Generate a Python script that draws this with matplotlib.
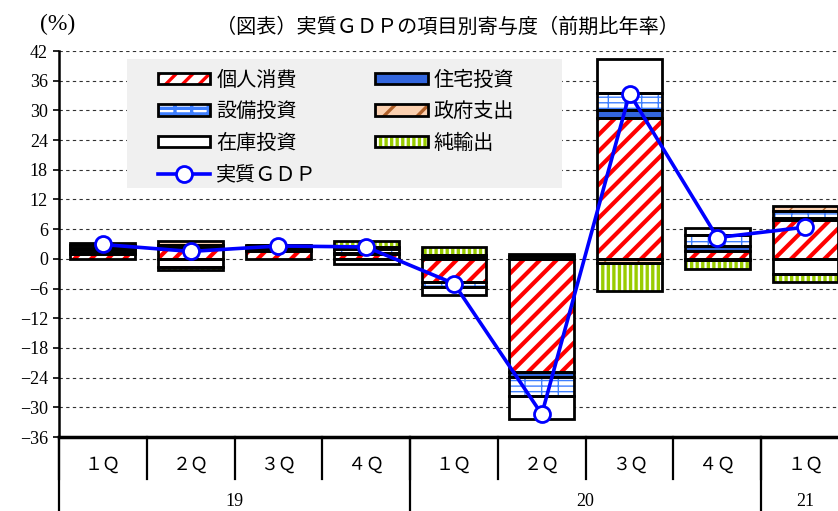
import numpy as np
import matplotlib
matplotlib.use("Agg")
import matplotlib.pyplot as plt
from matplotlib.patches import Patch, Rectangle
from matplotlib.lines import Line2D

plt.rcParams["font.family"] = ["Liberation Serif", "Noto Sans CJK JP", "DejaVu Sans"]

# quarters / years along the x axis
quarters = ["１Ｑ", "２Ｑ", "３Ｑ", "４Ｑ", "１Ｑ", "２Ｑ", "３Ｑ", "４Ｑ", "１Ｑ"]
years = ["19", "19", "19", "19", "20", "20", "20", "20", "21"]

# contributions (annualised q/q, %pt)
consumption = [1.0, 2.0, 1.6, 1.0, -4.6, -22.8, 28.4, 1.6, 7.9]
housing = [0.1, 0.1, 0.2, 0.2, 0.5, -1.0, 1.7, 1.0, 0.4]
equipment = [0.6, 0.6, 0.3, 0.7, -1.0, -4.0, 3.4, 2.2, 1.3]
government = [0.5, 0.9, 0.4, 0.4, 0.3, 0.5, -0.9, -0.2, 1.1]
inventory = [0.5, -1.7, 0.2, -1.0, -1.7, -4.5, 6.9, 1.4, -3.0]
net_exports = [0.5, -0.5, 0.1, 1.3, 1.6, 0.4, -5.5, -1.9, -1.6]
real_gdp = [2.9, 1.5, 2.6, 2.4, -5.0, -31.4, 33.4, 4.3, 6.4]

# name, values, face, hatch colour, hatch, hatch linewidth
SERIES = [
    ("個人消費", consumption, "white", "#ff0000", "//", 3.0),
    ("住宅投資", housing, "#3366dd", "#3366dd", None, 1.0),
    ("設備投資", equipment, "white", "#3f7fff", "---|", 1.0),
    ("政府支出", government, "#fbd0b0", "#b0602a", "/", 1.0),
    ("在庫投資", inventory, "white", "white", None, 1.0),
    ("純輸出", net_exports, "white", "#99cc00", "|||", 2.4),
]

W = 838
H = 511
fig = plt.figure(figsize=(W / 100, H / 100), dpi=100)
ax = fig.add_axes([59 / W, 74 / H, 790 / W, 386 / H])

x = np.arange(len(quarters))
pos_bottom = np.zeros(len(x))
neg_bottom = np.zeros(len(x))
handles = {}
for name, vals, face, hcol, hatch, hlw in SERIES:
    vals = np.array(vals)
    bottom = np.where(vals >= 0, pos_bottom, neg_bottom)
    plt.rcParams["hatch.linewidth"] = hlw
    fill = ax.bar(x, vals, 0.74, bottom=bottom, color=face, edgecolor=hcol,
                  linewidth=0, hatch=hatch, zorder=2)
    for p in fill:
        if hasattr(p, "set_hatch_linewidth"):
            p.set_hatch_linewidth(hlw)
    ax.bar(x, vals, 0.74, bottom=bottom, fill=False, edgecolor="black",
           linewidth=2.0, zorder=3)
    pos_bottom = pos_bottom + np.where(vals >= 0, vals, 0)
    neg_bottom = neg_bottom + np.where(vals < 0, vals, 0)

    hp = Patch(facecolor=face, edgecolor=hcol, linewidth=0, hatch=hatch)
    if hasattr(hp, "set_hatch_linewidth"):
        hp.set_hatch_linewidth(hlw)
    handles[name] = (hp, Patch(facecolor="none", edgecolor="black", linewidth=2.0))

ax.plot(x, real_gdp, color="#0000ff", lw=2.6, marker="o", ms=11.5,
        mfc="white", mec="#0000ff", mew=2, zorder=5)
gdp_handle = Line2D([], [], color="#0000ff", lw=2.6, marker="o", ms=11.5,
                    mfc="white", mec="#0000ff", mew=2)

# axes styling
ax.set_xlim(-0.5, 8.5)
ax.set_ylim(-36, 42)
ax.set_yticks(np.arange(-36, 43, 6))
ax.set_xticks([])
ax.yaxis.grid(True, linestyle=(0, (3, 3)), color="#333333", linewidth=0.8)
ax.set_axisbelow(True)
for s in ["top", "right"]:
    ax.spines[s].set_visible(False)
ax.spines["bottom"].set_linewidth(2.5)
ax.spines["left"].set_linewidth(1.8)
ax.tick_params(axis="y", direction="out", length=4, width=1.2, labelsize=13, pad=4)

# category axis below the plot
for b in np.arange(len(x) + 1) - 0.5:
    ax.plot([b, b], [0, -0.109], transform=ax.get_xaxis_transform(),
            color="black", lw=1.6, clip_on=False)
for b in [-0.5, 3.5, 7.5]:
    ax.plot([b, b], [0, -0.2], transform=ax.get_xaxis_transform(),
            color="black", lw=1.6, clip_on=False)
for i, q in enumerate(quarters):
    ax.text(i, -0.074, q, transform=ax.get_xaxis_transform(), ha="center",
            va="center", fontsize=13)
for yr in ["19", "20", "21"]:
    idx = [i for i, y in enumerate(years) if y == yr]
    ax.text(np.mean(idx), -0.168, yr, transform=ax.get_xaxis_transform(),
            ha="center", va="center", fontsize=13)

fig.text(58 / W, 1 - 24 / H, "(%)", ha="center", va="center", fontsize=17)
fig.text(447 / W, 1 - 28 / H, "（図表）実質ＧＤＰの項目別寄与度（前期比年率）",
         ha="center", va="center", fontsize=14.5)

# grey legend background
ax.add_patch(Rectangle((0.0861, 0.6451), 0.5506, 0.3342, transform=ax.transAxes,
                       facecolor="#f0f0f0", edgecolor="none", zorder=3.5))

order = ["個人消費", "設備投資", "在庫投資", None, "住宅投資", "政府支出", "純輸出"]
leg_handles = [handles[n] if n else gdp_handle for n in order]
leg_labels = [n if n else "実質ＧＤＰ" for n in order]
leg = ax.legend(leg_handles, leg_labels, ncol=2, loc="upper left",
                bbox_to_anchor=(0.125, 0.947), borderaxespad=0, fontsize=14.5,
                handlelength=2.6, handleheight=0.5, handletextpad=0.3,
                columnspacing=2.9, labelspacing=0.62, borderpad=0,
                frameon=False)
leg.set_zorder(4)

fig.savefig("out.png", dpi=100)
